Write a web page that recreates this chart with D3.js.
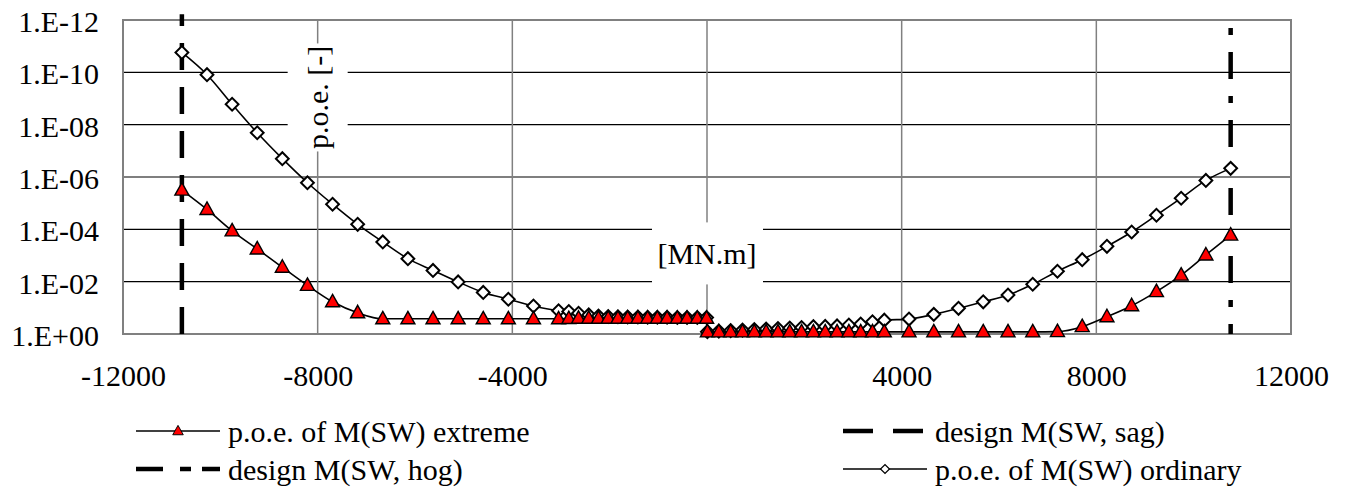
<!DOCTYPE html>
<html>
<head>
<meta charset="utf-8">
<script src="https://cdn.jsdelivr.net/npm/d3@7"></script>
<style>
  html, body { margin: 0; padding: 0; background: #fff; }
  svg { display: block; font-family: "Liberation Serif", "Times New Roman", serif; }
</style>
</head>
<body>
<svg id="chart" width="1346" height="490"></svg>
<script>
// Bending moment M(SW) in MN.m, shared by both probability series
const moments = [
  -10790, -10274, -9758, -9242, -8726, -8210, -7694, -7178, -6662, -6146,
  -5630, -5114, -4598, -4082, -3566,
  -3050, -2840, -2640, -2430, -2230, -2030, -1830, -1630, -1420, -1220,
  -1020, -820, -610, -410, -200, -8,
  8, 243, 486, 729, 972, 1215, 1458, 1700, 1943, 2186, 2429, 2672, 2915,
  3158, 3400, 3643,
  4151, 4660, 5168, 5676, 6185, 6693, 7201, 7710, 8218, 8726, 9235, 9743,
  10251, 10760
];

// log10 of probability of exceedance, extreme sea state
const poeExtremeLog = [
  -5.50, -4.76, -3.94, -3.25, -2.55, -1.86, -1.23, -0.81, -0.58, -0.58,
  -0.58, -0.58, -0.58, -0.58, -0.58,
  -0.58, -0.59, -0.60, -0.60, -0.60, -0.60, -0.60, -0.60, -0.60, -0.60,
  -0.60, -0.60, -0.60, -0.60, -0.60, -0.60,
  -0.08, -0.08, -0.08, -0.08, -0.08, -0.08, -0.08, -0.08, -0.08, -0.08,
  -0.08, -0.08, -0.08, -0.08, -0.08, -0.08,
  -0.08, -0.08, -0.08, -0.08, -0.08, -0.08, -0.09, -0.28, -0.66, -1.08,
  -1.62, -2.25, -3.02, -3.78
];

// log10 of probability of exceedance, ordinary sea state
const poeOrdinaryLog = [
  -10.76, -9.91, -8.78, -7.69, -6.70, -5.78, -4.96, -4.19, -3.52, -2.88,
  -2.43, -1.99, -1.59, -1.33, -1.07,
  -0.89, -0.86, -0.79, -0.73, -0.69, -0.67, -0.66, -0.65, -0.65, -0.64,
  -0.64, -0.64, -0.63, -0.63, -0.63, -0.63,
  -0.09, -0.11, -0.13, -0.15, -0.17, -0.19, -0.21, -0.23, -0.25, -0.28,
  -0.29, -0.31, -0.34, -0.38, -0.47, -0.53,
  -0.57, -0.75, -0.98, -1.23, -1.49, -1.90, -2.40, -2.84, -3.35, -3.90,
  -4.54, -5.19, -5.87, -6.33
];

// Design still-water moments (vertical reference lines)
const designSag = -10790;
const designHog = 10760;
const designSpan = [1, 6e-13];

const xTicks = [-12000, -8000, -4000, 0, 4000, 8000, 12000];
const xTickLabels = ["-12000", "-8000", "-4000", "", "4000", "8000", "12000"];
const yTicks = [1e0, 1e-2, 1e-4, 1e-6, 1e-8, 1e-10, 1e-12];
const yTickLabels = ["1.E+00", "1.E-02", "1.E-04", "1.E-06", "1.E-08", "1.E-10", "1.E-12"];

const seriesNames = {
  extreme: "p.o.e. of M(SW) extreme",
  sag: "design M(SW, sag)",
  hog: "design M(SW, hog)",
  ordinary: "p.o.e. of M(SW) ordinary"
};

const svg = d3.select("#chart");
const plot = { left: 123, right: 1291, top: 20, bottom: 334 };

const x = d3.scaleLinear().domain([-12000, 12000]).range([plot.left, plot.right]);
const y = d3.scaleLog().domain([1, 1e-12]).range([plot.bottom, plot.top]);

const FONT = 30;

// gridlines
const grid = svg.append("g");
grid.selectAll("line.h").data(yTicks.slice(1, -1)).join("line")
  .attr("x1", plot.left).attr("x2", plot.right)
  .attr("y1", d => y(d)).attr("y2", d => y(d))
  .attr("stroke", "#000").attr("stroke-width", 1.2);
grid.selectAll("line.v").data(xTicks.slice(1, -1)).join("line")
  .attr("x1", d => x(d)).attr("x2", d => x(d))
  .attr("y1", plot.top).attr("y2", plot.bottom)
  .attr("stroke", "#808080").attr("stroke-width", 1.5);

// axis titles on white backing boxes
const unitY = svg.append("g").attr("transform", `translate(${x(-8000)},${y(Math.pow(10, -9.04))})`);
unitY.append("rect").attr("x", -30).attr("y", -54).attr("width", 60).attr("height", 108).attr("fill", "#fff");
unitY.append("text").attr("transform", "rotate(-90)").attr("text-anchor", "middle")
  .attr("dy", "0.35em").attr("font-size", FONT).text("p.o.e. [-]");

const unitX = svg.append("g").attr("transform", `translate(${x(0)},${y(Math.pow(10, -3.08))})`);
unitX.append("rect").attr("x", -55).attr("y", -31).attr("width", 111).attr("height", 62).attr("fill", "#fff");
unitX.append("text").attr("text-anchor", "middle").attr("dy", "0.35em")
  .attr("font-size", FONT).text("[MN.m]");

// plot border
svg.append("rect").attr("x", plot.left).attr("y", plot.top)
  .attr("width", plot.right - plot.left).attr("height", plot.bottom - plot.top)
  .attr("fill", "none").attr("stroke", "#808080").attr("stroke-width", 2);

// axes
const xAxis = d3.axisBottom(x).tickValues(xTicks)
  .tickFormat((d, i) => xTickLabels[i]).tickSize(0).tickPadding(31);
svg.append("g").attr("transform", `translate(0,${plot.bottom})`).call(xAxis)
  .call(g => g.select(".domain").remove())
  .selectAll("text").attr("font-size", FONT).attr("font-family", "Liberation Serif").attr("fill", "#000");

const yAxis = d3.axisLeft(y).tickValues(yTicks)
  .tickFormat((d, i) => yTickLabels[i]).tickSize(0).tickPadding(24);
svg.append("g").attr("transform", `translate(${plot.left},0)`).call(yAxis)
  .call(g => g.select(".domain").remove())
  .selectAll("text").attr("font-size", FONT).attr("font-family", "Liberation Serif").attr("fill", "#000")
  .attr("dy", "0.38em");

// design lines
const sagPattern = "27 17";
const hogPattern = "27 17 7 17";
function designLine(xv, pattern, offset) {
  svg.append("line")
    .attr("x1", x(xv)).attr("x2", x(xv))
    .attr("y1", y(designSpan[0])).attr("y2", y(designSpan[1]))
    .attr("stroke", "#000").attr("stroke-width", 4.5)
    .attr("stroke-dasharray", pattern).attr("stroke-dashoffset", offset);
}
designLine(designSag, sagPattern, 0);
designLine(designHog, hogPattern, 17);

const ordinary = moments.map((m, i) => ({ m, p: Math.pow(10, poeOrdinaryLog[i]) }));
const extreme = moments.map((m, i) => ({ m, p: Math.pow(10, poeExtremeLog[i]) }));

const line = d3.line().x(d => x(d.m)).y(d => y(d.p)).curve(d3.curveMonotoneX);

const diamond = d3.symbol().type(d3.symbolSquare).size(82)();
const triangle = "M0,-7.5L7,5L-7,5Z";

// ordinary series
svg.append("path").datum(ordinary).attr("d", line)
  .attr("fill", "none").attr("stroke", "#000").attr("stroke-width", 1.6);
svg.append("g").selectAll("path").data(ordinary).join("path")
  .attr("transform", d => `translate(${x(d.m)},${y(d.p)}) rotate(45)`)
  .attr("d", diamond).attr("fill", "#fff").attr("stroke", "#000").attr("stroke-width", 2);

// extreme series
svg.append("path").datum(extreme).attr("d", line)
  .attr("fill", "none").attr("stroke", "#000").attr("stroke-width", 1.6);
svg.append("g").selectAll("path").data(extreme).join("path")
  .attr("transform", d => `translate(${x(d.m)},${y(d.p)})`)
  .attr("d", triangle).attr("fill", "#ff0000").attr("stroke", "#000").attr("stroke-width", 1.4);

// legend
const legend = svg.append("g").attr("font-size", FONT);
const items = [
  { key: "extreme", col: 0, row: 0 },
  { key: "sag", col: 1, row: 0 },
  { key: "hog", col: 0, row: 1 },
  { key: "ordinary", col: 1, row: 1 }
];
const colX = [136, 843];
const rowY = [431, 469];
const sampleLen = 84;
items.forEach(it => {
  const g = legend.append("g").attr("transform", `translate(${colX[it.col]},${rowY[it.row]})`);
  if (it.key === "extreme" || it.key === "ordinary") {
    g.append("line").attr("x1", 0).attr("x2", sampleLen).attr("stroke", "#000").attr("stroke-width", 1.6);
    if (it.key === "extreme") {
      g.append("path").attr("transform", `translate(${sampleLen / 2},0) scale(0.75)`).attr("d", triangle)
        .attr("fill", "#ff0000").attr("stroke", "#000").attr("stroke-width", 1.3);
    } else {
      g.append("path").attr("transform", `translate(${sampleLen / 2},0) rotate(45) scale(0.7)`).attr("d", diamond)
        .attr("fill", "#fff").attr("stroke", "#000").attr("stroke-width", 1.8);
    }
  } else {
    g.append("line").attr("x1", 0).attr("x2", sampleLen).attr("stroke", "#000").attr("stroke-width", 4.5)
      .attr("stroke-dasharray", it.key === "sag" ? "30 20" : "27 17 11 11");
  }
  g.append("text").attr("x", sampleLen + 8).attr("dy", "0.35em").text(seriesNames[it.key]);
});
</script>
</body>
</html>
